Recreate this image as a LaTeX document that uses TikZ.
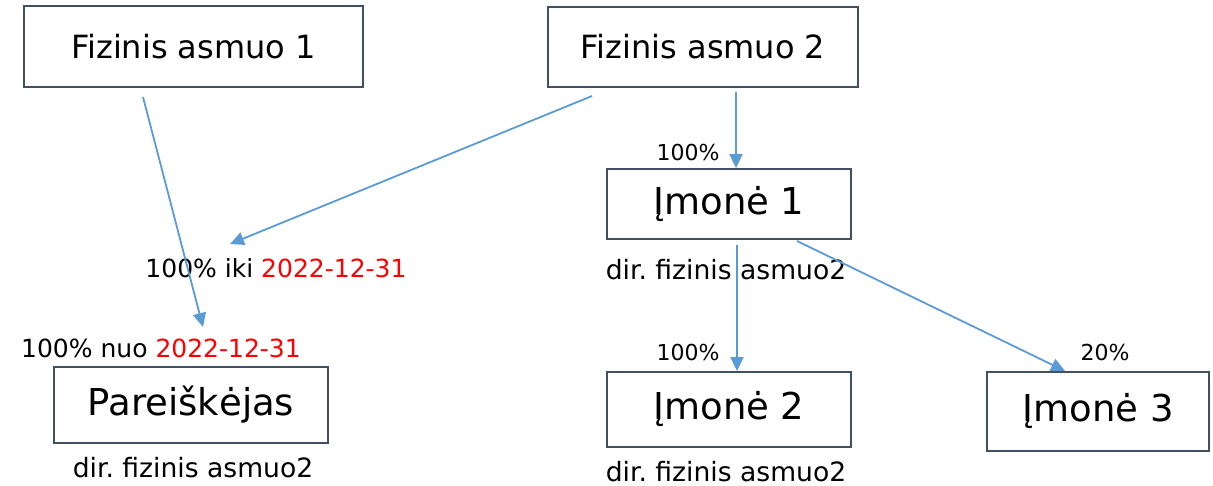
\documentclass[tikz,border=0pt]{standalone}
\usepackage{fontspec}
\setmainfont{DejaVu Sans}
\usetikzlibrary{arrows.meta}
\definecolor{boxline}{RGB}{65,80,100}
\definecolor{linkblue}{RGB}{91,155,213}
\definecolor{datered}{RGB}{255,0,0}
\frenchspacing
\begin{document}
\begin{tikzpicture}[x=0.5pt,y=-0.5pt,
    entity/.style={draw=boxline,line width=0.9pt,fill=white,inner sep=0pt},
    person/.style={entity,font=\fontsize{16}{18}\selectfont},
    company/.style={entity,font=\fontsize{18.5}{21}\selectfont},
    link/.style={linkblue,line width=0.9pt,-{Triangle[length=7pt,width=6.5pt]}},
    share/.style={font=\fontsize{11}{12}\selectfont,inner sep=0pt},
    period/.style={font=\fontsize{12.5}{14}\selectfont,inner sep=0pt},
    director/.style={font=\fontsize{13.3}{15}\selectfont,inner sep=0pt}]
  \useasboundingbox (0,0) rectangle (1213,486);
  % owners
  \node[person,minimum width=169.5pt,minimum height=40.5pt] (fa1) at (193.5,46.5) {Fizinis asmuo 1};
  \node[person,minimum width=155pt,minimum height=40pt] (fa2) at (703,47) {Fizinis asmuo 2};
  % companies
  \node[company,minimum width=122pt,minimum height=35pt] (im1) at (729,204) {Įmonė 1};
  \node[company,minimum width=122pt,minimum height=37.5pt] (im2) at (729,409.5) {Įmonė 2};
  \node[company,minimum width=111pt,minimum height=39.5pt] (im3) at (1098,411.5) {Įmonė 3};
  \node[company,minimum width=137pt,minimum height=38pt] (par) at (191,405) {Pareiškėjas};
  % labels
  \node[share] (p1) at (688,152) {100\%};
  \node[share] (p2) at (688,352) {100\%};
  \node[share] (p3) at (1105,352) {20\%};
  \node[period] (iki) at (276,268) {100\% iki \textcolor{datered}{2022-12-31}};
  \node[period] (nuo) at (161,348) {100\% nuo \textcolor{datered}{2022-12-31}};
  \node[director] (d1) at (726,270) {dir. fizinis asmuo2};
  \node[director] (d0) at (193,468) {dir. fizinis asmuo2};
  \node[director] (d2) at (726,472) {dir. fizinis asmuo2};
  % ownership links
  \coordinate (fa1out) at (143,97);
  \coordinate (parin) at (203,327);
  \coordinate (fa2out) at (592,96);
  \coordinate (ikiin) at (230,244);
  \coordinate (fa2down) at (736,92);
  \coordinate (im1down) at (737,245);
  \coordinate (im1side) at (797,241);
  \coordinate (im3in) at (1065,371);
  \draw[link] (fa1out) -- (parin);
  \draw[link] (fa2out) -- (ikiin);
  \draw[link] (fa2down) -- (fa2down |- im1.north);
  \draw[link] (im1down) -- (im1down |- im2.north);
  \draw[link] (im1side) -- (im3in);
\end{tikzpicture}
\end{document}
